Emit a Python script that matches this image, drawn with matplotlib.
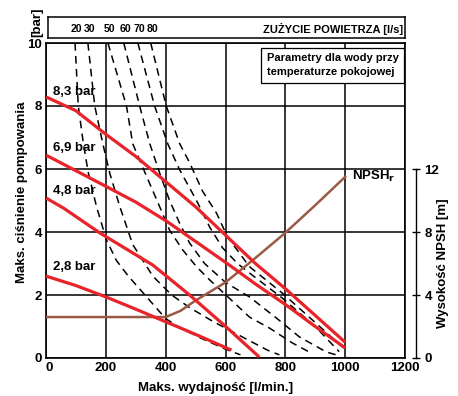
import matplotlib
matplotlib.use("Agg")
import matplotlib.pyplot as plt

plt.rcParams['font.family'] = ['Liberation Sans Narrow', 'Liberation Sans', 'DejaVu Sans']
plt.rcParams['font.weight'] = 'bold'

# Axis ticks
flow_ticks = [0, 200, 400, 600, 800, 1000, 1200]
pressure_ticks = [0, 2, 4, 6, 8, 10]
npsh_ticks = [0, 4, 8, 12]

# Discharge pressure curves (flow l/min, pressure bar) for each air inlet pressure
supply_labels = ["8,3 bar", "6,9 bar", "4,8 bar", "2,8 bar"]
p83_flow = [0, 100, 200, 300, 400, 500, 600, 700, 800, 900, 1000]
p83_bar = [8.29, 7.85, 7.1, 6.4, 5.6, 4.8, 3.9, 3.0, 2.2, 1.35, 0.5]
p69_flow = [0, 180, 300, 402, 500, 613, 700, 800, 900, 1000]
p69_bar = [6.44, 5.55, 4.95, 4.35, 3.7, 2.95, 2.35, 1.7, 1.0, 0.32]
p48_flow = [0, 60, 180, 357, 480, 603, 713]
p48_bar = [5.08, 4.75, 3.97, 2.95, 2.0, 0.98, 0.03]
p28_flow = [0, 100, 200, 300, 400, 500, 620]
p28_bar = [2.6, 2.3, 1.94, 1.55, 1.15, 0.75, 0.25]

# Air consumption curves (l/s)
air_values = [20, 30, 50, 60, 70, 80]
air20_flow = [97, 108, 125, 141, 169, 202, 235, 275, 340, 400, 450, 520, 600, 650]
air20_bar = [10, 8, 6.8, 5.9, 4.8, 3.75, 3.1, 2.6, 1.9, 1.25, 0.95, 0.62, 0.28, 0.1]
air30_flow = [140, 163, 190, 213, 247, 290, 357, 420, 480, 560, 640, 700, 740, 780]
air30_bar = [10, 8, 6.8, 5.87, 4.8, 3.6, 2.6, 2.0, 1.6, 1.15, 0.75, 0.45, 0.25, 0.1]
air50_flow = [207, 269, 290, 337, 380, 413, 457, 503, 547, 590, 680, 747, 823, 880]
air50_bar = [10, 8, 6.8, 5.75, 4.8, 4.06, 3.43, 2.9, 2.48, 2.1, 1.3, 0.95, 0.48, 0.19]
air60_flow = [260, 313, 347, 380, 413, 447, 480, 530, 600, 680, 770, 847, 937, 970]
air60_bar = [10, 8, 6.8, 5.87, 5.0, 4.27, 3.65, 3.0, 2.4, 1.94, 1.27, 0.67, 0.19, 0.1]
air70_flow = [307, 363, 407, 447, 503, 547, 590, 640, 680, 790, 900, 980]
air70_bar = [10, 8, 6.8, 5.97, 5.0, 4.16, 3.5, 3.0, 2.7, 1.9, 1.0, 0.2]
air80_flow = [350, 402, 447, 480, 523, 570, 607, 680, 790, 903, 1003]
air80_bar = [10, 8, 6.8, 6.2, 5.3, 4.6, 3.84, 2.9, 2.06, 1.1, 0.25]

# Required NPSH (flow l/min, head m)
npsh_flow = [0, 100, 200, 300, 400, 450, 500, 600, 700, 800, 900, 1000]
npsh_m = [2.6, 2.6, 2.6, 2.6, 2.6, 3.0, 3.65, 4.8, 6.35, 7.95, 9.7, 11.5]

RED = "#e8232a"
BROWN = "#9b5a45"

fig = plt.figure(figsize=(4.58, 3.96), dpi=100)
left, right = 46 / 458, 405 / 458
bottom, top = 1 - 358 / 396, 1 - 43 / 396
ax = fig.add_axes([left, bottom, right - left, top - bottom])

ax.set_xlim(0, 1200)
ax.set_ylim(0, 10)
ax.set_xticks(flow_ticks)
ax.set_yticks(pressure_ticks)
ax.grid(True, color="black", lw=1.1)
ax.set_axisbelow(True)
for s in ax.spines.values():
    s.set_linewidth(1.2)
ax.tick_params(length=0, labelsize=9.5, pad=3)
ax.get_xticklabels()[0].set_horizontalalignment("left")

# air consumption curves
air_series = [
    (air20_flow, air20_bar), (air30_flow, air30_bar), (air50_flow, air50_bar),
    (air60_flow, air60_bar), (air70_flow, air70_bar), (air80_flow, air80_bar),
]
for fx, fy in air_series:
    ax.plot(fx, fy, color="black", lw=1.1, dashes=(5, 3.5), zorder=3)

# NPSHr curve on the secondary scale (2 m per bar)
npsh_in_bar = [v / 2.0 for v in npsh_m]
ax.plot(npsh_flow, npsh_in_bar, color=BROWN, lw=1.8, zorder=4)

# pressure curves
for fx, fy in [(p83_flow, p83_bar), (p69_flow, p69_bar), (p48_flow, p48_bar), (p28_flow, p28_bar)]:
    ax.plot(fx, fy, color=RED, lw=2.3, zorder=5, solid_capstyle="butt")

label_pos = [(22, 8.45), (25, 6.66), (25, 5.3), (25, 2.9)]
for txt, (lx, ly) in zip(supply_labels, label_pos):
    ax.text(lx, ly, txt, fontsize=9.5, fontweight="bold", va="center", ha="left", zorder=6)

ax.text(1022, npsh_in_bar[-1], "NPSH$_\\mathbf{r}$", fontsize=9.5, fontweight="bold",
        va="center", ha="left")

ax.text(0.982, 0.968, "Parametry dla wody przy\ntemperaturze pokojowej",
        transform=ax.transAxes, ha="right", va="top", multialignment="left",
        fontsize=8.0, fontweight="bold", linespacing=1.55, zorder=7,
        bbox=dict(boxstyle="square,pad=0.5", fc="white", ec="black", lw=0.9))

ax.set_xlabel("Maks. wydajność [l/min.]", fontsize=9.5, fontweight="bold")
ax.xaxis.set_label_coords(0.472, -0.075)
ax.set_ylabel("Maks. ciśnienie pompowania", fontsize=9.5, fontweight="bold")
ax.yaxis.set_label_coords(-0.05, 0.527)

# secondary NPSH axis
ax2 = ax.twinx()
ax2.set_ylim(0, 20)
ax2.set_yticks(npsh_ticks)
for name in ["top", "left", "bottom"]:
    ax2.spines[name].set_visible(False)
ax2.spines["right"].set_position(("outward", 8))
ax2.spines["right"].set_bounds(0, 12)
ax2.spines["right"].set_linewidth(1.0)
ax2.tick_params(axis="y", direction="inout", length=6, width=1.0, labelsize=9.5, pad=3)
ax2.set_ylabel("Wysokość NPSH [m]", fontsize=9.5, fontweight="bold")
ax2.yaxis.set_label_coords(1.09, 0.3)

# air consumption header strip
axt = fig.add_axes([left + 2 / 458, 1 - 38 / 396, right - left - 2 / 458, 21 / 396])
axt.set_xlim(0, 1200)
axt.set_ylim(0, 1)
axt.set_xticks([])
axt.set_yticks([])
for s in axt.spines.values():
    s.set_linewidth(1.1)
for val, (fx, fy) in zip(air_values, air_series):
    axt.text(fx[0], 0.42, str(val), ha="center", va="center", fontsize=7.6, fontweight="bold")
axt.text(0.995, 0.45, "ZUŻYCIE POWIETRZA [l/s]", transform=axt.transAxes,
         ha="right", va="center", fontsize=8.0, fontweight="bold")

fig.text(37 / 458, 1 - 22 / 396, "[bar]", rotation=90, ha="center", va="center",
         fontsize=9.5, fontweight="bold")

fig.savefig("out.png", dpi=100)
